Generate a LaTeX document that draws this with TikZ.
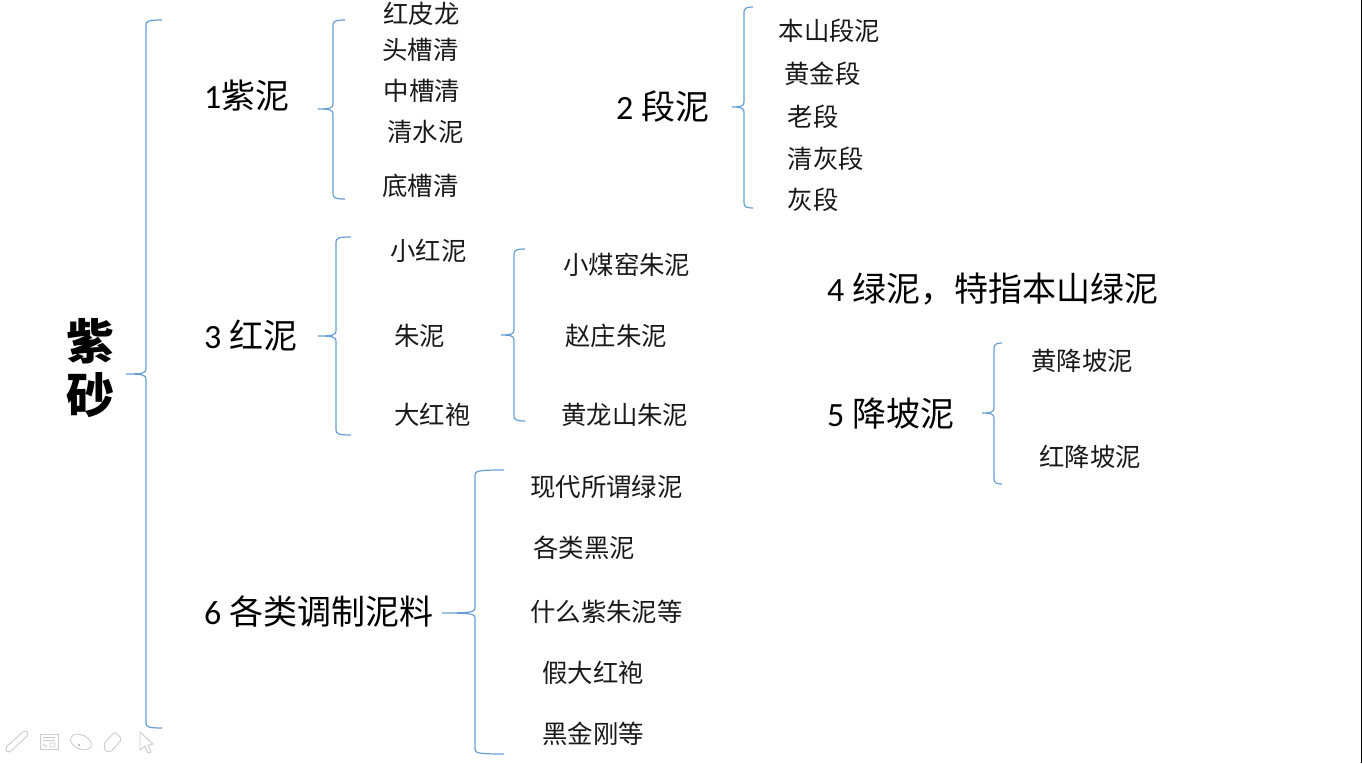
\documentclass[tikz,border=0pt]{standalone}
\usepackage{fontspec}
\setmainfont{Carlito}
\newfontfamily\cjk{Noto Sans CJK SC}
\newcommand{\zh}[1]{{\cjk #1}}
\newcommand{\bracedraw}[7]{% tip x, spine x, end x, top y, mid y, bottom y, name
  \coordinate (#7tip) at (#1,#5);
  \coordinate (#7top) at (#3,#4);
  \coordinate (#7bot) at (#3,#6);
  \draw[bracelink] (#7top) .. controls (#2+3,#4) and (#2,#4+1) .. (#2,#4+5)
    -- (#2,#5-5) .. controls (#2,#5-1) and (#2-3,#5) .. (#7tip)
    .. controls (#2-3,#5) and (#2,#5+1) .. (#2,#5+5)
    -- (#2,#6-5) .. controls (#2,#6-1) and (#2+3,#6) .. (#7bot);
}
\tikzset{
  x=1pt,y=-1pt,
  bracelink/.style={color={rgb,255:red,104;green,158;blue,214},line width=1.2pt},
  item/.style={font=\fontsize{25.4}{25.4}\selectfont\cjk,text=black!90,inner sep=0pt,anchor=west},
  head/.style={font=\fontsize{34}{34}\selectfont,text=black,inner sep=0pt,anchor=west},
  title/.style={font=\fontsize{48}{54}\selectfont\cjk\bfseries,text=black,inner sep=0pt,align=center},
  tool/.style={draw=black!20,line width=0.9pt,fill=white}
}
\begin{document}
\begin{tikzpicture}
\useasboundingbox (0,0) rectangle (1362,763);
\fill[white] (0,0) rectangle (1362,763);
\fill[black] (1361,0) rectangle (1362,763);
\node[title] (root) at (90.5,368) {紫\\砂};
\node[head] (n1) at (204,96) {1\zh{紫泥}};
\node[head] (n2) at (616,107) {2 \zh{段泥}};
\node[head] (n3) at (204,336) {3 \zh{红泥}};
\node[head] (n4) at (827,289) {4 \zh{绿泥，特指本山绿泥}};
\node[head] (n5) at (827,414) {5 \zh{降坡泥}};
\node[head] (n6) at (204,612) {6 \zh{各类调制泥料}};
\node[item] (a1) at (383,14) {红皮龙};
\node[item] (a2) at (382,49.5) {头槽清};
\node[item] (a3) at (383.5,91) {中槽清};
\node[item] (a4) at (387,132) {清水泥};
\node[item] (a5) at (382,186) {底槽清};
\node[item] (b1) at (778.5,31) {本山段泥};
\node[item] (b2) at (784,74) {黄金段};
\node[item] (b3) at (787.5,117) {老段};
\node[item] (b4) at (787.5,159) {清灰段};
\node[item] (b5) at (787.5,200) {灰段};
\node[item] (c1) at (390,251) {小红泥};
\node[item] (c2) at (394,336) {朱泥};
\node[item] (c3) at (394,415) {大红袍};
\node[item] (d1) at (563,265) {小煤窑朱泥};
\node[item] (d2) at (565,336) {赵庄朱泥};
\node[item] (d3) at (561,415) {黄龙山朱泥};
\node[item] (e1) at (1031,361) {黄降坡泥};
\node[item] (e2) at (1039,457) {红降坡泥};
\node[item] (f1) at (530,487) {现代所谓绿泥};
\node[item] (f2) at (533,548) {各类黑泥};
\node[item] (f3) at (530,612) {什么紫朱泥等};
\node[item] (f4) at (542,673) {假大红袍};
\node[item] (f5) at (542,734) {黑金刚等};
\bracedraw{126}{146}{162}{20}{374}{728}{A}
\bracedraw{318}{333}{345}{20}{109}{199}{B}
\bracedraw{732}{744}{753}{7}{107}{208}{C}
\bracedraw{318}{336}{351}{237}{336}{435}{D}
\bracedraw{501}{514}{525}{249}{335}{421}{E}
\bracedraw{982}{994}{1002}{343}{413}{484}{F}
\bracedraw{442}{475}{504}{470}{613}{754}{G}
% toolbar icons
\draw[tool] (6,751) -- (7,746) -- (24,731) -- (28,732) -- (27,736) -- (10,752) -- cycle;
\draw[tool] (40,734) rectangle (58,749);
\draw[tool] (43,737) -- (55,737) (43,740) -- (55,740);
\draw[tool] (50,743) rectangle (55,747) (43,744) -- (47,747);
\draw[tool] (81,742) ellipse[x radius=11,y radius=7,rotate=-25];
\fill[black!35] (79,745) circle[radius=1.2];
\draw[tool,rounded corners=2pt] (104,743) -- (115,732) -- (122,739) -- (111,752) -- (105,751) -- cycle;
\draw[tool] (140,732) -- (153,744) -- (148,745) -- (151,752) -- (148,753) -- (145,746) -- (140,750) -- cycle;
\end{tikzpicture}
\end{document}
